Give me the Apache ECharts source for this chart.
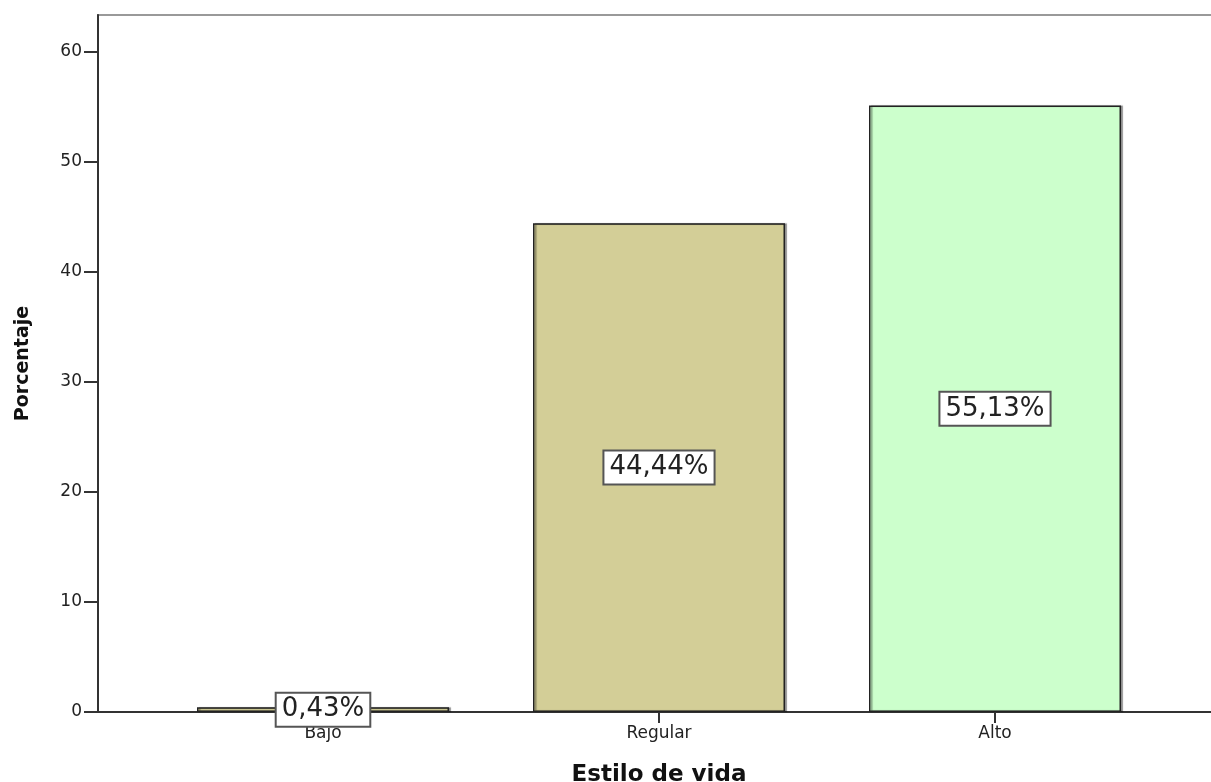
<!DOCTYPE html>
<html>
<head>
<meta charset="utf-8">
<style>
  html, body { margin: 0; padding: 0; background: #fff; }
  #chart { width: 1211px; height: 782px; }
</style>
<script src="https://cdn.jsdelivr.net/npm/echarts@6/dist/echarts.min.js"></script>
</head>
<body>
<div id="chart"></div>
<script>
// datos del grafico
const categories = ['Bajo', 'Regular', 'Alto']
const percentages = [0.43, 44.44, 55.13]
const barColors = ['#d3ce97', '#d3ce97', '#ccffcc']
const yTicks = [0, 10, 20, 30, 40, 50, 60]
const yMax = 63.36

const myChart = echarts.init(document.getElementById('chart'))
myChart.setOption({
  animation: false,
  textStyle: { fontFamily: 'DejaVu Sans, Arial, sans-serif' },
  grid: [
    // marco: eje vertical y linea base
    { left: 98, right: -10, top: 15, bottom: 70, outerBoundsMode: 'none', containLabel: false, show: true, borderColor: '#999', borderWidth: 2, backgroundColor: 'transparent' },
    // zona de las barras
    { left: 155, right: 48, top: 15, bottom: 70, outerBoundsMode: 'none', containLabel: false }
  ],
  xAxis: [
    {
      gridIndex: 0,
      type: 'value',
      min: 0,
      max: 1,
      axisLine: { show: true, lineStyle: { color: '#333', width: 2 } },
      axisTick: { show: false },
      axisLabel: { show: false },
      splitLine: { show: false }
    },
    {
      gridIndex: 1,
      type: 'category',
      data: categories,
      axisLine: { show: false },
      axisTick: { show: true, alignWithLabel: true, length: 11, lineStyle: { color: '#333', width: 2 } },
      axisLabel: { color: '#222', fontSize: 17, margin: 13 },
      name: 'Estilo de vida',
      nameLocation: 'middle',
      nameGap: 52,
      nameTextStyle: { fontWeight: 'bold', fontSize: 23, color: '#111' }
    }
  ],
  yAxis: [
    {
      gridIndex: 0,
      type: 'value',
      min: 0,
      max: yMax,
      axisLine: { show: true, lineStyle: { color: '#333', width: 2 } },
      axisTick: { show: true, length: 14, customValues: yTicks, lineStyle: { color: '#333', width: 2 } },
      axisLabel: { color: '#222', fontSize: 17, margin: 16, customValues: yTicks },
      splitLine: { show: false },
      name: 'Porcentaje',
      nameLocation: 'middle',
      nameGap: 65,
      nameTextStyle: { fontWeight: 'bold', fontSize: 19, color: '#111' }
    },
    {
      gridIndex: 1,
      type: 'value',
      min: 0,
      max: yMax,
      show: false
    }
  ],
  series: [
    {
      type: 'bar',
      xAxisIndex: 1,
      yAxisIndex: 1,
      barWidth: 252,
      data: percentages.map((v, i) => ({
        value: v,
        itemStyle: { color: barColors[i] }
      })),
      itemStyle: {
        borderColor: '#222',
        borderWidth: 1.5,
        shadowColor: 'rgba(0,0,0,0.35)',
        shadowOffsetX: 2,
        shadowOffsetY: 0,
        shadowBlur: 1
      },
      label: {
        show: true,
        position: 'inside',
        formatter: (p) => p.value.toFixed(2).replace('.', ',') + '%',
        fontSize: 26,
        color: '#222',
        backgroundColor: '#fff',
        borderColor: '#555',
        borderWidth: 2,
        padding: [3, 5, 3, 5]
      },
      z: 3
    }
  ]
})
window.addEventListener('resize', function () {
  myChart.resize()
})
</script>
</body>
</html>
